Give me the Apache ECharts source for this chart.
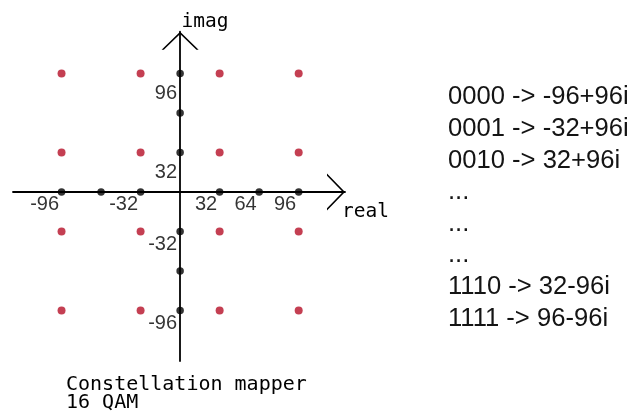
<!DOCTYPE html>
<html>
<head>
<meta charset="utf-8">
<script src="https://cdn.jsdelivr.net/npm/echarts@6/dist/echarts.min.js"></script>
<style>
html,body{margin:0;padding:0;background:#fff;}
#chart{width:639px;height:418px;}
</style>
</head>
<body>
<div id="chart"></div>
<script>
// ---- data ----
var realLevels = [-96, -32, 32, 96];
var imagLevels = [96, 32, -32, -96];
var realTickDots = [-96, -64, -32, 32, 64, 96];
var imagTickDots = [96, 64, 32, -32, -64, -96];
var realTickLabels = [-96, -32, 32, 64, 96];
var imagTickLabels = [96, 32, -32, -96];
var mappingLines = [
  '0000 -> -96+96i',
  '0001 -> -32+96i',
  '0010 -> 32+96i',
  '...',
  '...',
  '...',
  '1110 -> 32-96i',
  '1111 -> 96-96i'
];
var xAxisName = 'real';
var yAxisName = 'imag';
var captionLines = ['Constellation mapper', '16 QAM'];

// ---- build ----
var constellation = [];
imagLevels.forEach(function (q) {
  realLevels.forEach(function (i) { constellation.push([i, q]); });
});
var axisDots = realTickDots.map(function (v) { return [v, 0]; })
  .concat(imagTickDots.map(function (v) { return [0, v]; }));

var mono = 'DejaVu Sans Mono';
var sans = 'Liberation Sans';
var labelBase = {show: true, fontFamily: sans, fontSize: 20, color: '#000', align: 'right', verticalAlign: 'top'};

var xLabelData = realTickLabels.map(function (v) {
  return {value: [v, 0], label: {position: [-2.5, 2.5]}};
});
var yLabelData = imagTickLabels.map(function (v) {
  return {value: [0, v], label: {position: [-3, v > 0 ? 10 : 2.5]}};
});

var chevron = 'path://M0,18 L18.5,0 L37,18 L34.8,18 L18.5,2.2 L2.2,18 Z';

var chart = echarts.init(document.getElementById('chart'), null, {renderer: 'canvas'});
chart.setOption({
  backgroundColor: '#ffffff',
  animation: false,
  title: {
    text: captionLines.join('\n'),
    left: 66,
    top: 375.5,
    padding: 0,
    textStyle: {fontFamily: mono, fontSize: 20, fontWeight: 'normal', color: '#000', lineHeight: 18.5}
  },
  grid: {left: 13, right: 294, top: 31.7, bottom: 57, containLabel: false, outerBoundsMode: 'none'},
  xAxis: {
    type: 'value',
    min: -135.3,
    max: 133.5,
    name: xAxisName,
    nameLocation: 'end',
    nameGap: -3,
    nameTextStyle: {fontFamily: mono, fontSize: 19.5, color: '#000', align: 'left', verticalAlign: 'top', lineHeight: 19.5, padding: [10, 0, 0, 0]},
    axisLine: {
      onZero: true,
      lineStyle: {color: '#000', width: 1.8},
      symbol: ['none', chevron],
      symbolSize: [37, 18],
      symbolOffset: [0, -9]
    },
    axisTick: {show: false},
    splitLine: {show: false},
    axisLabel: {show: false}
  },
  yAxis: {
    type: 'value',
    min: -136.8,
    max: 129.8,
    name: yAxisName,
    nameLocation: 'end',
    nameGap: 0.5,
    nameTextStyle: {fontFamily: mono, fontSize: 19.5, color: '#000', align: 'left', verticalAlign: 'bottom', lineHeight: 19.5, padding: [0, 0, 0, 1.5]},
    axisLine: {
      onZero: true,
      lineStyle: {color: '#000', width: 1.8},
      symbol: ['none', chevron],
      symbolSize: [37, 18],
      symbolOffset: [0, -9]
    },
    axisTick: {show: false},
    splitLine: {show: false},
    axisLabel: {show: false}
  },
  graphic: [{
    type: 'text',
    left: 448,
    top: 81.5,
    style: {
      text: mappingLines.join('\n'),
      font: '25.6px "Liberation Sans"',
      fill: '#141414',
      lineHeight: 31.6
    }
  }],
  series: [
    {
      type: 'scatter',
      name: 'real ticks',
      data: xLabelData,
      symbolSize: 0,
      silent: true,
      z: 4,
      label: Object.assign({}, labelBase, {formatter: function (p) { return String(p.value[0]); }})
    },
    {
      type: 'scatter',
      name: 'imag ticks',
      data: yLabelData,
      symbolSize: 0,
      silent: true,
      z: 4,
      label: Object.assign({}, labelBase, {formatter: function (p) { return String(p.value[1]); }})
    },
    {
      type: 'scatter',
      data: axisDots,
      symbol: 'circle',
      symbolSize: 7.5,
      itemStyle: {color: '#000'},
      z: 5,
      silent: true
    },
    {
      type: 'scatter',
      data: constellation,
      symbol: 'circle',
      symbolSize: 8,
      itemStyle: {color: '#b50f27'},
      z: 6,
      silent: true
    }
  ]
});
</script>
</body>
</html>
